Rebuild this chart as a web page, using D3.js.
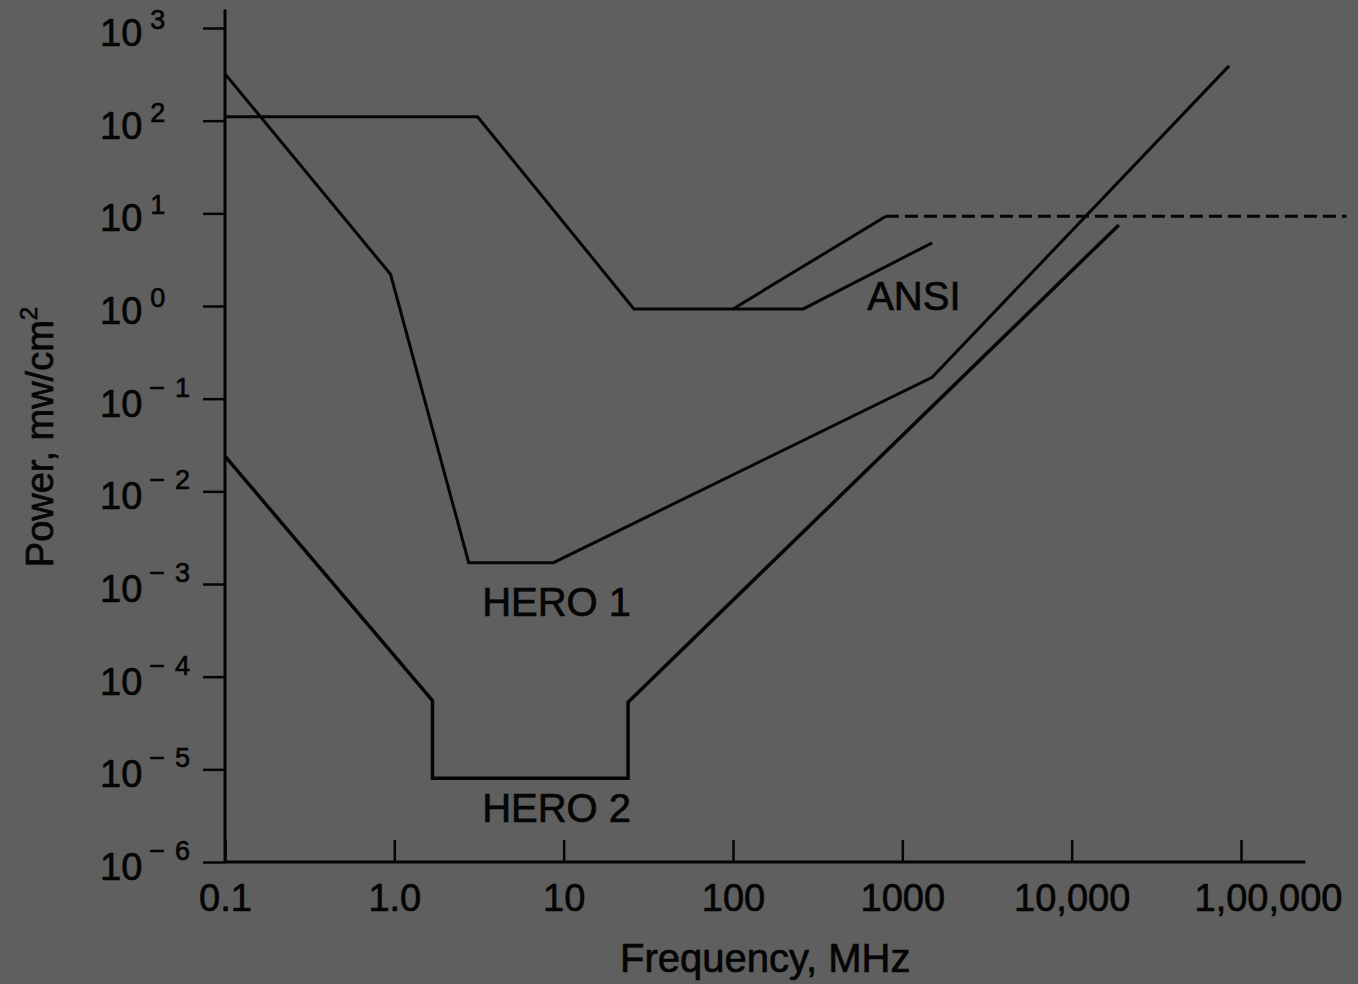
<!DOCTYPE html>
<html>
<head>
<meta charset="utf-8">
<script src="https://cdn.jsdelivr.net/npm/d3@7"></script>
<style>
  html, body { margin: 0; padding: 0; background: #5f5f5f; }
  svg { display: block; font-family: "Liberation Sans", Arial, sans-serif; }
  text { stroke: #050505; stroke-width: 0.7px; }
</style>
</head>
<body>
<svg width="1358" height="984"></svg>
<script>
// tick values + labels
const xTicks = [0.1, 1, 10, 100, 1000, 10000, 100000]
const xTickLabels = ['0.1', '1.0', '10', '100', '1000', '10,000', '1,00,000']
const yExponents = [3, 2, 1, 0, -1, -2, -3, -4, -5, -6]

// curves, [frequency MHz, power mw/cm2]
const ansiUpper = [[0.1, 110], [3.1, 110], [26, 0.93], [100, 0.93], [800, 9.3]]
const ansiDashed = [[800, 9.3], [420000, 9.3]]
const ansiLower = [[100, 0.93], [260, 0.93], [1500, 4.8]]
const hero1 = [[0.1, 320], [0.95, 2.2], [2.75, 0.0017], [8.7, 0.0017], [1500, 0.17], [85000, 390]]
const hero2 = [[0.1, 0.024], [1.68, 5.5e-5], [1.68, 8e-6], [24, 8e-6], [24, 5.3e-5], [19000, 7.5]]

// curve labels
const curveLabels = [
  { text: 'ANSI', f: 620, p: 0.9 },
  { text: 'HERO 1', f: 3.3, p: 4.5e-4 },
  { text: 'HERO 2', f: 3.3, p: 2.7e-6 }
]

const ink = '#050505'
const svg = d3.select('svg')

const x = d3.scaleLog().domain([0.1, 100000]).range([225, 1241])
const y = d3.scaleLog().domain([1e-6, 1e3]).range([862, 28])

// axis ends go a little past the last tick
const xAxisEnd = 240000
const yAxisEnd = Math.pow(10, 3.2)

drawAxes()
drawCurves()
drawLabels()

function drawAxes() {
  // y axis, ticks point outward
  const gy = svg.append('g')
    .attr('transform', `translate(${x(0.1)},0)`)
    .call(d3.axisLeft(y).tickValues(yExponents.map(e => Math.pow(10, e))).tickSizeInner(22).tickSizeOuter(0).tickFormat(''))
  gy.select('.domain').remove()
  gy.selectAll('.tick line').attr('stroke', ink).attr('stroke-width', 2.5)

  // x axis, ticks point inward
  const gx = svg.append('g')
    .attr('transform', `translate(0,${y(1e-6)})`)
    .call(d3.axisBottom(x).tickValues(xTicks).tickSizeInner(-22).tickSizeOuter(0).tickFormat((d, i) => xTickLabels[i]))
  gx.select('.domain').remove()
  gx.selectAll('.tick line').attr('stroke', ink).attr('stroke-width', 2.5)
  gx.selectAll('.tick text')
    .attr('y', 49)
    .attr('dy', 0)
    .attr('dx', (d, i) => i == xTicks.length - 1 ? 27 : 0)
    .attr('fill', ink)
    .attr('font-size', 38)
    .attr('font-family', '"Liberation Sans", Arial, sans-serif')

  // axis lines
  svg.append('line')
    .attr('x1', x(0.1)).attr('x2', x(0.1))
    .attr('y1', y(yAxisEnd)).attr('y2', y(1e-6))
    .attr('stroke', ink).attr('stroke-width', 3)
  svg.append('line')
    .attr('x1', x(0.1)).attr('x2', x(xAxisEnd))
    .attr('y1', y(1e-6)).attr('y2', y(1e-6))
    .attr('stroke', ink).attr('stroke-width', 3)

  // 10^n labels
  const lab = svg.append('g').selectAll('text')
    .data(yExponents)
    .enter()
    .append('text')
      .attr('x', 100)
      .attr('y', d => y(Math.pow(10, d)) + 18)
      .attr('fill', ink)
      .attr('font-size', 38)
  lab.append('tspan').text('10')
  lab.filter(d => d >= 0).append('tspan')
    .attr('dx', 8).attr('dy', -17).attr('font-size', 27)
    .text(d => d)
  lab.filter(d => d < 0).append('tspan')
    .attr('dx', 7).attr('dy', -20).attr('font-size', 27)
    .text('\u2212')
  lab.filter(d => d < 0).append('tspan')
    .attr('dx', 10).attr('font-size', 27)
    .text(d => -d)

  // axis titles
  svg.append('text')
    .attr('x', (x(0.1) + x(xAxisEnd)) / 2)
    .attr('y', 972)
    .attr('text-anchor', 'middle')
    .attr('font-size', 40)
    .attr('fill', ink)
    .text('Frequency, MHz')

  const yt = svg.append('text')
    .attr('transform', 'translate(53,437) rotate(-90)')
    .attr('text-anchor', 'middle')
    .attr('font-size', 38)
    .attr('fill', ink)
  yt.append('tspan').text('Power, mw/cm')
  yt.append('tspan').attr('dy', -16).attr('font-size', 24).text('2')
}

function drawCurves() {
  const line = d3.line().x(d => x(d[0])).y(d => y(d[1]))
  const solid = [ansiUpper, ansiLower, hero1, hero2]

  svg.append('g').selectAll('path')
    .data(solid)
    .enter()
    .append('path')
      .attr('d', line)
      .attr('fill', 'none')
      .attr('stroke', ink)
      .attr('stroke-width', (d, i) => i == 3 ? 3.5 : 3)
      .attr('stroke-linejoin', 'miter')

  svg.append('path')
    .datum(ansiDashed)
    .attr('d', line)
    .attr('fill', 'none')
    .attr('stroke', ink)
    .attr('stroke-width', 3)
    .attr('stroke-dasharray', '13,6')
}

function drawLabels() {
  svg.append('g').selectAll('text')
    .data(curveLabels)
    .enter()
    .append('text')
      .attr('x', d => x(d.f))
      .attr('y', d => y(d.p))
      .attr('font-size', 40)
      .attr('fill', ink)
      .text(d => d.text)
}
</script>
</body>
</html>
